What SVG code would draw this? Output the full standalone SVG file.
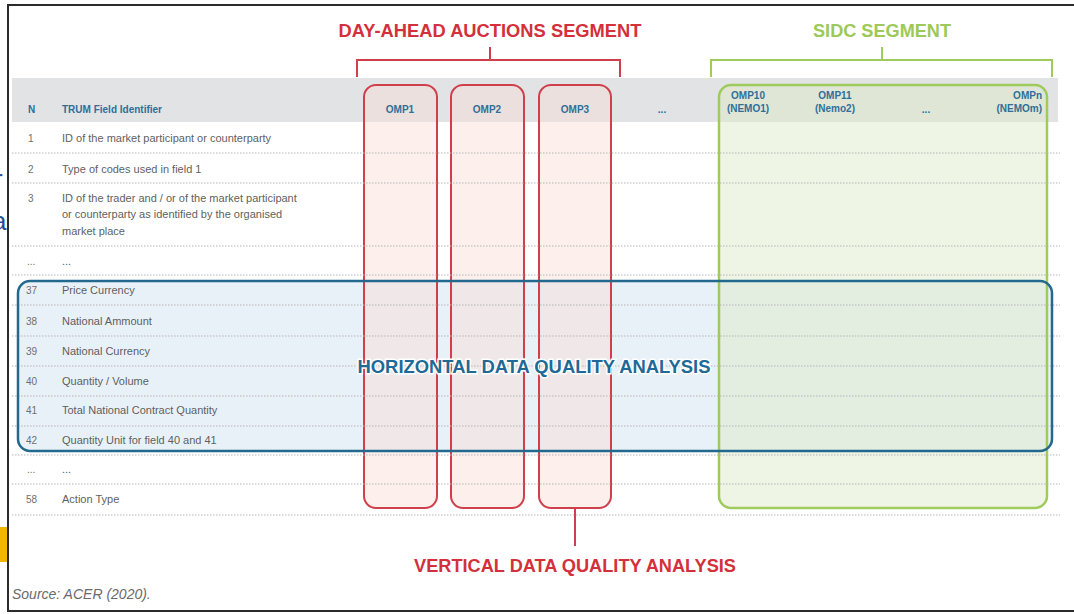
<svg xmlns="http://www.w3.org/2000/svg" width="1074" height="614" viewBox="0 0 1074 614">
<style>
.frame{stroke:#2b2b2b;stroke-width:2;fill:none}
.row{stroke:#b5b5b5;stroke-width:1;stroke-dasharray:1.5 1.5;fill:none}
.num{font-family:"Liberation Sans",Arial,sans-serif;font-size:10px;fill:#6f6f6f}
.fld{font-family:"Liberation Sans",Arial,sans-serif;font-size:11px;fill:#5f5f5f}
.hdr{font-family:"Liberation Sans",Arial,sans-serif;font-size:10px;font-weight:bold;fill:#2f6f98}
.red{stroke:#d0404c;fill:none;stroke-width:2}
.grn{stroke:#9fcb5c;fill:none;stroke-width:2}
.redcol{fill:#f8dcd4;fill-opacity:0.45;stroke:#d0404c;stroke-width:2}
.grncol{fill:#dbe8c3;fill-opacity:0.45;stroke:#9fcb5c;stroke-width:2.5}
.big{font-family:"Liberation Sans",Arial,sans-serif;font-size:19px;font-weight:bold}
.art{font-family:"Liberation Sans",Arial,sans-serif;font-size:26px;fill:#2a4f8f}
</style>
<rect width="1074" height="614" fill="#ffffff"/>
<!-- slide artifacts at left edge -->
<text class="art" x="-6" y="188">r</text>
<text class="art" x="-8" y="230">a</text>
<rect x="0" y="527" width="7" height="35" fill="#f5b400"/>
<!-- frame -->
<line class="frame" x1="7" y1="5" x2="1074" y2="5"/>
<line class="frame" x1="8" y1="5" x2="8" y2="612"/>
<line class="frame" x1="7" y1="611" x2="1074" y2="611"/>

<g id="table">
<rect x="12" y="78" width="1046" height="44" fill="#e2e3e5"/>
<rect id="horizontal-fill" x="18" y="281" width="1034" height="170" rx="12" fill="#c9dcee" fill-opacity="0.4"/>
</g>

<g id="dayahead">
<text class="big" x="490" y="37" text-anchor="middle" fill="#d3303c" textLength="303" lengthAdjust="spacingAndGlyphs">DAY-AHEAD AUCTIONS SEGMENT</text>
<path class="red" d="M357 77 V60 H620 V77 M490 47 V60"/>
</g>
<g id="omp1"><rect class="redcol" x="364" y="85" width="73" height="423" rx="12"/><text class="hdr" x="400" y="113" text-anchor="middle">OMP1</text></g>
<g id="omp2"><rect class="redcol" x="451" y="85" width="73" height="423" rx="12"/><text class="hdr" x="487" y="113" text-anchor="middle">OMP2</text></g>
<g id="omp3"><rect class="redcol" x="539" y="85" width="72" height="423" rx="12"/><text class="hdr" x="575" y="113" text-anchor="middle">OMP3</text></g>
<text class="hdr" x="662" y="113" text-anchor="middle">...</text>

<g id="sidc">
<text class="big" x="882" y="37" text-anchor="middle" fill="#9cc957" textLength="138" lengthAdjust="spacingAndGlyphs">SIDC SEGMENT</text>
<path class="grn" d="M711 77 V60 H1052 V77 M882 47 V60"/>
<rect class="grncol" x="719" y="85" width="328" height="423" rx="12"/>
<text class="hdr" x="748" y="99" text-anchor="middle">OMP10</text>
<text class="hdr" x="748" y="112" text-anchor="middle">(NEMO1)</text>
<text class="hdr" x="835" y="99" text-anchor="middle">OMP11</text>
<text class="hdr" x="835" y="112" text-anchor="middle">(Nemo2)</text>
<text class="hdr" x="926" y="113" text-anchor="middle">...</text>
<text class="hdr" x="1042" y="99" text-anchor="end">OMPn</text>
<text class="hdr" x="1042" y="112" text-anchor="end">(NEMOm)</text>
</g>

<g id="rows">
<text class="hdr" x="28" y="113">N</text>
<text class="hdr" x="62" y="113">TRUM Field Identifier</text>
<line class="row" x1="12" y1="153" x2="1060" y2="153"/>
<line class="row" x1="12" y1="183" x2="1060" y2="183"/>
<line class="row" x1="12" y1="246" x2="1060" y2="246"/>
<line class="row" x1="12" y1="275" x2="1060" y2="275"/>
<line class="row" x1="12" y1="305" x2="1060" y2="305"/>
<line class="row" x1="12" y1="336" x2="1060" y2="336"/>
<line class="row" x1="12" y1="366" x2="1060" y2="366"/>
<line class="row" x1="12" y1="396" x2="1060" y2="396"/>
<line class="row" x1="12" y1="426" x2="1060" y2="426"/>
<line class="row" x1="12" y1="455" x2="1060" y2="455"/>
<line class="row" x1="12" y1="484" x2="1060" y2="484"/>
<line class="row" x1="12" y1="515" x2="1060" y2="515"/>
<text class="num" x="28" y="142">1</text><text class="fld" x="62" y="142">ID of the market participant or counterparty</text>
<text class="num" x="28" y="173">2</text><text class="fld" x="62" y="173">Type of codes used in field 1</text>
<text class="num" x="28" y="202">3</text><text class="fld" x="62" y="202">ID of the trader and / or of the market participant</text>
<text class="fld" x="62" y="218">or counterparty as identified by the organised</text>
<text class="fld" x="62" y="235">market place</text>
<text class="num" x="27" y="265">...</text><text class="fld" x="62" y="265">...</text>
<text class="num" x="26" y="294">37</text><text class="fld" x="62" y="294">Price Currency</text>
<text class="num" x="26" y="325">38</text><text class="fld" x="62" y="325">National Ammount</text>
<text class="num" x="26" y="355">39</text><text class="fld" x="62" y="355">National Currency</text>
<text class="num" x="26" y="385">40</text><text class="fld" x="62" y="385">Quantity / Volume</text>
<text class="num" x="26" y="414">41</text><text class="fld" x="62" y="414">Total National Contract Quantity</text>
<text class="num" x="26" y="444">42</text><text class="fld" x="62" y="444">Quantity Unit for field 40 and 41</text>
<text class="num" x="27" y="473">...</text><text class="fld" x="62" y="473">...</text>
<text class="num" x="26" y="503">58</text><text class="fld" x="62" y="503">Action Type</text>
</g>

<g id="horizontal">
<rect x="18" y="281" width="1034" height="170" rx="12" fill="none" stroke="#23698f" stroke-width="2.5"/>
<text class="big" x="534" y="373" text-anchor="middle" fill="#1f6a96" stroke="#ffffff" stroke-width="3" paint-order="stroke" textLength="353" lengthAdjust="spacingAndGlyphs">HORIZONTAL DATA QUALITY ANALYSIS</text>
</g>

<g id="connectors">
<line class="red" x1="575" y1="508" x2="575" y2="546"/>
</g>
<g id="vertical">
<text class="big" x="575" y="572" text-anchor="middle" fill="#d3303c" textLength="322" lengthAdjust="spacingAndGlyphs">VERTICAL DATA QUALITY ANALYSIS</text>
</g>
<text x="12" y="599" font-family="Liberation Sans,Arial,sans-serif" font-size="14" font-style="italic" fill="#6a6a6a">Source: ACER (2020).</text>
</svg>
